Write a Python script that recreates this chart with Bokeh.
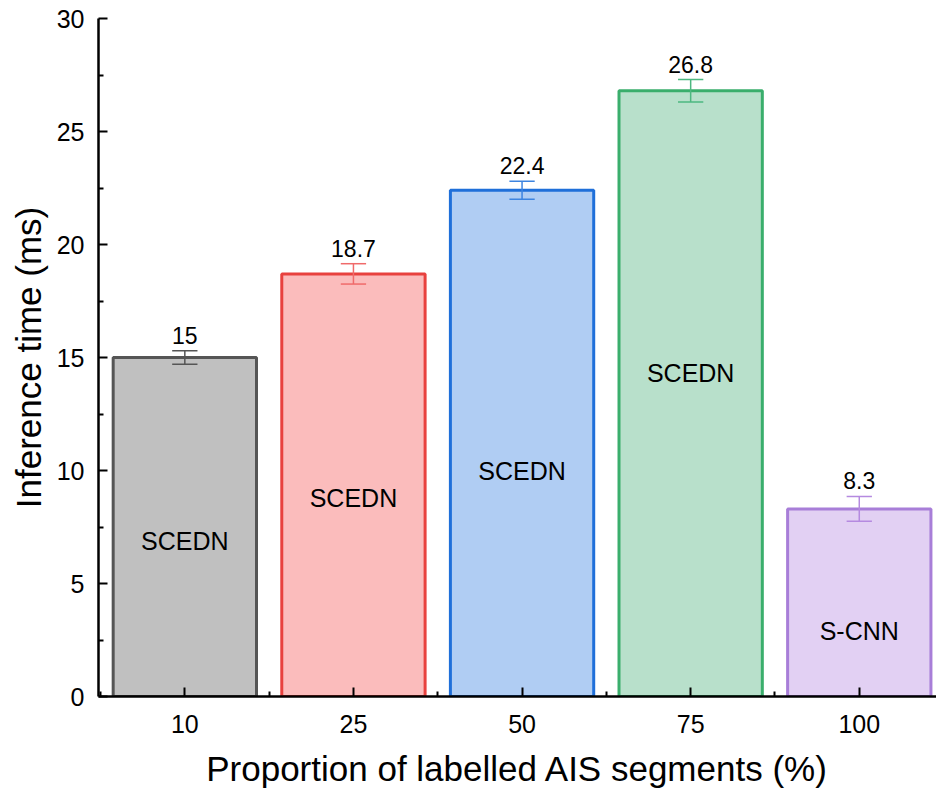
from bokeh.plotting import figure
from bokeh.models import FixedTicker, Range1d, ColumnDataSource
from bokeh.core.properties import value
from bokeh.embed import file_html
from bokeh.resources import INLINE

categories = ["10", "25", "50", "75", "100"]
times = [15.0, 18.7, 22.4, 26.8, 8.3]
errors = [0.3, 0.45, 0.4, 0.5, 0.55]
methods = ["SCEDN", "SCEDN", "SCEDN", "SCEDN", "S-CNN"]
method_label_y = [6.9, 8.8, 10.0, 14.3, 2.9]
fill_colors = ["#c0c0c0", "#fbbcbc", "#b0cdf3", "#b8e0cb", "#e2d0f3"]
line_colors = ["#555555", "#e8413e", "#1f6fd9", "#3aae6c", "#a87ed8"]
err_colors = ["#555555", "#f06a6a", "#3d84e0", "#4db880", "#b58ae0"]

FONT = "Liberation Sans"
xs = list(range(len(categories)))
half_cap = 0.075

src = ColumnDataSource(dict(
    x=xs, top=times, fill=fill_colors, line=line_colors, errc=err_colors,
    lo=[t - e for t, e in zip(times, errors)],
    hi=[t + e for t, e in zip(times, errors)],
    cl=[x - half_cap for x in xs], cr=[x + half_cap for x in xs],
    lab=[("%g" % t) for t in times],
    method=methods, my=method_label_y,
))

p = figure(width=936, height=799, output_backend="svg", toolbar_location=None,
           x_range=Range1d(-0.512, 4.458), y_range=Range1d(0, 30),
           min_border_left=98, min_border_right=0, min_border_top=18, min_border_bottom=103)
p.outline_line_color = None
p.grid.grid_line_color = None
p.background_fill_color = "white"

p.vbar(x="x", top="top", bottom=0, width=0.85, source=src,
       fill_color="fill", line_color="line", line_width=3)

p.segment(x0="x", x1="x", y0="lo", y1="hi", source=src, line_color="errc", line_width=1.5)
p.segment(x0="cl", x1="cr", y0="lo", y1="lo", source=src, line_color="errc", line_width=1.5)
p.segment(x0="cl", x1="cr", y0="hi", y1="hi", source=src, line_color="errc", line_width=1.5)

p.text(x="x", y="hi", text="lab", source=src, text_align="center", text_baseline="bottom",
       y_offset=-7, text_font=value(FONT), text_font_size="23px", text_color="black")
p.text(x="x", y="my", text="method", source=src, text_align="center", text_baseline="middle",
       text_font=value(FONT), text_font_size="25px", text_color="black")

xax = p.xaxis[0]
xax.ticker = FixedTicker(ticks=xs, minor_ticks=[-0.5, 0.5, 1.5, 2.5, 3.5, 4.5])
xax.major_label_overrides = {i: c for i, c in enumerate(categories)}
xax.axis_label = "Proportion of labelled AIS segments (%)"

yax = p.yaxis[0]
yax.ticker = FixedTicker(ticks=[0, 5, 10, 15, 20, 25, 30],
                         minor_ticks=[2.5, 7.5, 12.5, 17.5, 22.5, 27.5])
yax.axis_label = "Inference time (ms)"

for ax in (xax, yax):
    ax.axis_line_width = 2.5
    ax.axis_line_color = "black"
    ax.major_tick_in = 9
    ax.major_tick_out = 0
    ax.minor_tick_in = 5
    ax.minor_tick_out = 0
    ax.major_tick_line_width = 2
    ax.minor_tick_line_width = 2
    ax.major_tick_line_color = "black"
    ax.minor_tick_line_color = "black"
    ax.major_label_text_font = FONT
    ax.major_label_text_font_size = "25px"
    ax.major_label_text_color = "black"
    ax.axis_label_text_font = FONT
    ax.axis_label_text_font_size = "35px"
    ax.axis_label_text_font_style = "normal"
    ax.axis_label_text_color = "black"

xax.major_label_standoff = 18
xax.axis_label_standoff = 13
yax.major_label_standoff = 14
yax.axis_label_standoff = 6

open("out.html", "w").write(file_html(p, INLINE))
